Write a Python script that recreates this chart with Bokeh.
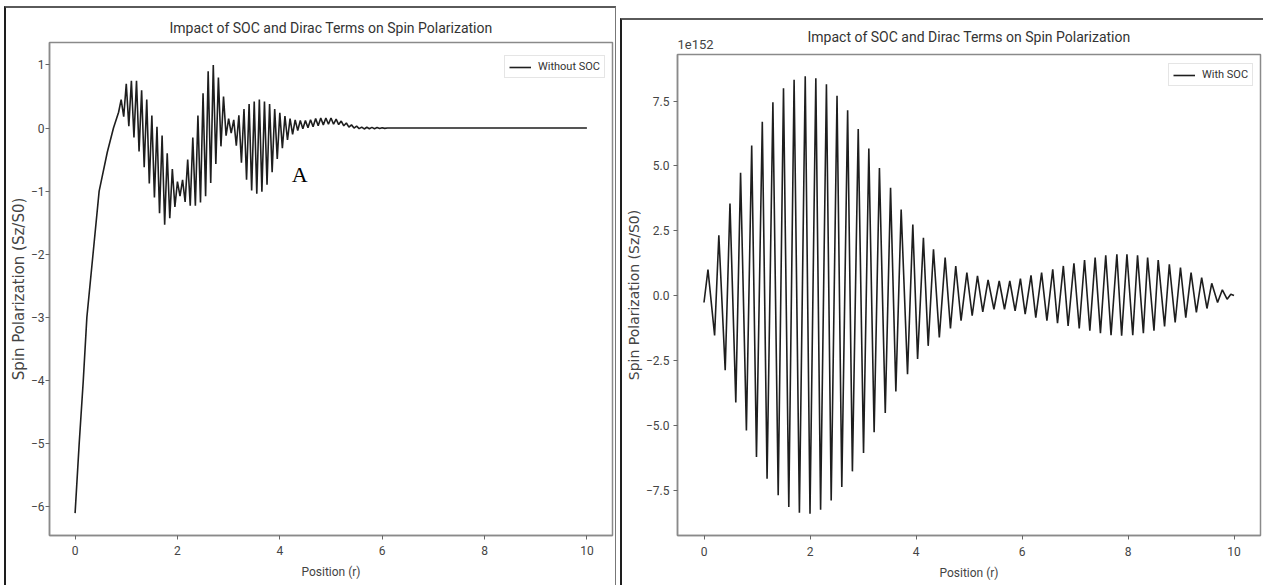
from bokeh.plotting import figure
from bokeh.layouts import row
from bokeh.models import Range1d, FixedTicker, Label, Title
from bokeh.embed import file_html
from bokeh.resources import INLINE

# ---------------- data ----------------
TITLE = "Impact of SOC and Dirac Terms on Spin Polarization"
X_LABEL = "Position (r)"
Y_LABEL = "Spin Polarization (Sz/S0)"
LEFT_LEGEND = "Without SOC"
RIGHT_LEGEND = "With SOC"
RIGHT_OFFSET_TEXT = "1e152"   # right panel values are in units of 1e152
ANNOTATION_TEXT = "A"

# left panel: spin polarization without SOC (turning points of the curve)
left_x = [0.0, 0.08, 0.16, 0.23, 0.35, 0.47, 0.63, 0.75, 0.85,
          0.90, 0.95, 1.00, 1.05, 1.10, 1.15, 1.20, 1.25, 1.30, 1.35,
          1.40, 1.45, 1.50, 1.55, 1.60, 1.65, 1.70, 1.75, 1.80, 1.85,
          1.90, 1.95, 2.00, 2.05, 2.10, 2.15, 2.20, 2.25, 2.30, 2.35,
          2.40, 2.45, 2.50, 2.55, 2.60, 2.65, 2.70, 2.75, 2.80, 2.85,
          2.90, 2.95, 3.00, 3.05, 3.10, 3.15, 3.20, 3.25, 3.30, 3.35,
          3.40, 3.45, 3.50, 3.55, 3.60, 3.65, 3.70, 3.75, 3.80, 3.85,
          3.90, 3.95, 4.00, 4.05, 4.10, 4.15, 4.20, 4.25, 4.30, 4.35,
          4.40, 4.45, 4.50, 4.55, 4.60, 4.65, 4.70, 4.75, 4.80, 4.85,
          4.90, 4.95, 5.00, 5.05, 5.10, 5.15, 5.20, 5.25, 5.30, 5.35,
          5.40, 5.45, 5.50, 5.55, 5.60, 5.65, 5.70, 5.75, 5.80, 5.85,
          5.90, 5.95, 6.00, 6.05, 6.10, 10.0]
left_y = [-6.1, -5.0, -4.0, -3.0, -2.0, -1.0, -0.38, 0.0, 0.25,
          0.45, 0.18, 0.70, 0.03, 0.75, -0.15, 0.75, -0.37, 0.60, -0.62,
          0.45, -0.88, 0.20, -1.10, 0.02, -1.35, -0.12, -1.53, -0.40, -1.43,
          -0.65, -1.25, -0.85, -1.08, -0.82, -1.17, -0.50, -1.23, -0.15, -1.23,
          0.20, -1.18, 0.55, -1.08, 0.90, -0.87, 1.00, -0.57, 0.80, -0.29,
          0.50, -0.12, 0.15, -0.08, 0.13, -0.28, 0.20, -0.55, 0.30, -0.82,
          0.38, -0.99, 0.42, -1.04, 0.45, -1.01, 0.42, -0.90, 0.38, -0.70,
          0.30, -0.49, 0.24, -0.32, 0.19, -0.19, 0.15, -0.10, 0.13, -0.04,
          0.12, -0.01, 0.12, 0.005, 0.13, 0.02, 0.15, 0.035, 0.16, 0.05,
          0.16, 0.06, 0.16, 0.06, 0.14, 0.055, 0.11, 0.035, 0.08, 0.015,
          0.05, 0.0, 0.03, -0.01, 0.015, -0.015, 0.012, -0.012, 0.01, -0.01,
          0.008, -0.008, 0.005, -0.005, 0.0, 0.0]

# right panel: spin polarization with SOC, in units of 1e152 (turning points)
right_x = [0.0, 0.075, 0.2, 0.28, 0.4, 0.49, 0.6, 0.69, 0.8, 0.9,
           0.99, 1.1, 1.19, 1.3, 1.4, 1.5, 1.6, 1.7, 1.8, 1.91,
           2.0, 2.11, 2.2, 2.31, 2.4, 2.51, 2.6, 2.71, 2.8, 2.91,
           3.01, 3.11, 3.21, 3.31, 3.42, 3.52, 3.62, 3.72, 3.84, 3.94,
           4.03, 4.14, 4.23, 4.33, 4.44, 4.55, 4.65, 4.75, 4.85, 4.96,
           5.06, 5.16, 5.26, 5.36, 5.47, 5.57, 5.67, 5.77, 5.87, 5.97,
           6.06, 6.17, 6.26, 6.37, 6.47, 6.58, 6.67, 6.78, 6.87, 6.98,
           7.08, 7.18, 7.28, 7.38, 7.48, 7.58, 7.68, 7.79, 7.88, 7.98,
           8.09, 8.18, 8.29, 8.37, 8.49, 8.57, 8.69, 8.78, 8.89, 8.99,
           9.09, 9.19, 9.29, 9.39, 9.49, 9.58, 9.69, 9.78, 9.87, 9.94, 10.0]
right_y = [-0.27, 1.0, -1.54, 2.32, -2.88, 3.55, -4.12, 4.73, -5.20, 5.78,
           -6.23, 6.70, -7.06, 7.45, -7.70, 7.99, -8.15, 8.32, -8.38, 8.45,
           -8.41, 8.38, -8.26, 8.15, -7.90, 7.70, -7.38, 7.14, -6.78, 6.42,
           -6.07, 5.67, -5.27, 4.92, -4.53, 4.15, -3.70, 3.32, -3.03, 2.74,
           -2.45, 2.23, -1.94, 1.78, -1.62, 1.46, -1.27, 1.14, -0.97, 0.88,
           -0.78, 0.76, -0.63, 0.60, -0.53, 0.56, -0.53, 0.56, -0.59, 0.65,
           -0.72, 0.78, -0.85, 0.88, -0.97, 1.01, -1.07, 1.14, -1.17, 1.24,
           -1.27, 1.37, -1.36, 1.46, -1.45, 1.55, -1.53, 1.59, -1.55, 1.59,
           -1.53, 1.55, -1.45, 1.46, -1.36, 1.37, -1.19, 1.20, -1.04, 1.08,
           -0.85, 0.88, -0.65, 0.69, -0.50, 0.47, -0.27, 0.22, -0.14, 0.05, 0.0]

x_ticks = [0, 2, 4, 6, 8, 10]
x_tick_labels = ["0", "2", "4", "6", "8", "10"]
left_y_ticks = [-6, -5, -4, -3, -2, -1, 0, 1]
left_y_tick_labels = ["\u22126", "\u22125", "\u22124", "\u22123", "\u22122", "\u22121", "0", "1"]
right_y_ticks = [-7.5, -5.0, -2.5, 0.0, 2.5, 5.0, 7.5]
right_y_tick_labels = ["\u22127.5", "\u22125.0", "\u22122.5", "0.0", "2.5", "5.0", "7.5"]

annotation_pos = (4.39, -0.73)   # where the letter "A" sits (left panel data coords)

FONT = "Roboto"
WIDE = "DejaVu Sans"


def padded(vals, frac=0.05):
    lo, hi = min(vals), max(vals)
    pad = (hi - lo) * frac
    return Range1d(lo - pad, hi + pad)


def make_panel(xs, ys, legend_label, yticks, ylabels, width, height,
               borders, ylab_size, legend_pos, styles, margin,
               ylab_standoff, ytick_standoff, xtick_standoff,
               offset_text=None, title_standoff=10, offset_standoff=4):
    p = figure(width=width, height=height, output_backend="svg",
               toolbar_location=None, title=None,
               x_range=padded(xs), y_range=padded(ys),
               min_border_left=borders[0], min_border_right=borders[1],
               min_border_top=borders[2], min_border_bottom=borders[3],
               styles=styles, margin=margin)
    p.grid.visible = False
    p.background_fill_color = "white"
    p.border_fill_color = "white"
    p.outline_line_color = "#8a8a8a"
    p.outline_line_width = 1.5

    if offset_text is not None:
        p.add_layout(Title(text=offset_text, align="left", text_font=FONT,
                           text_font_size="13px", text_font_style="normal",
                           text_color="#444444", standoff=offset_standoff), "above")
    p.add_layout(Title(text=TITLE, align="center", text_font=FONT,
                       text_font_size="14px", text_font_style="normal",
                       text_color="#333333", standoff=title_standoff), "above")

    for ax in (p.xaxis[0], p.yaxis[0]):
        ax.axis_line_color = "#8a8a8a"
        ax.axis_line_width = 1.5
        ax.major_tick_line_color = "#666666"
        ax.major_tick_out = 4
        ax.major_tick_in = 0
        ax.minor_tick_line_color = None
        ax.major_label_text_font = FONT
        ax.major_label_text_font_size = "12px"
        ax.major_label_text_color = "#444444"
        ax.axis_label_text_font_style = "normal"
        ax.axis_label_text_color = "#444444"

    p.xaxis.ticker = FixedTicker(ticks=x_ticks)
    p.xaxis.major_label_overrides = dict(zip(x_ticks, x_tick_labels))
    p.xaxis.axis_label = X_LABEL
    p.xaxis.axis_label_text_font = FONT
    p.xaxis.axis_label_text_font_size = "12px"
    p.xaxis.major_label_standoff = xtick_standoff
    p.xaxis.axis_label_standoff = 7

    p.yaxis.ticker = FixedTicker(ticks=yticks)
    p.yaxis.major_label_overrides = dict(zip(yticks, ylabels))
    p.yaxis.axis_label = Y_LABEL
    p.yaxis.axis_label_text_font = WIDE
    p.yaxis.axis_label_text_font_size = ylab_size
    p.yaxis.major_label_standoff = ytick_standoff
    p.yaxis.axis_label_standoff = ylab_standoff

    p.line(xs, ys, line_color="#1e1e1e", line_width=1.6, legend_label=legend_label)

    lg = p.legend[0]
    lg.location = legend_pos
    lg.label_text_font = FONT
    lg.label_text_font_size = "11px"
    lg.label_text_color = "#333333"
    lg.border_line_color = "#cccccc"
    lg.border_line_width = 1
    lg.background_fill_alpha = 1.0
    lg.padding = 4
    lg.spacing = 0
    lg.margin = 0
    lg.glyph_width = 22
    lg.glyph_height = 10
    lg.label_height = 10
    lg.label_standoff = 7
    return p


p1 = make_panel(left_x, left_y, LEFT_LEGEND, left_y_ticks, left_y_tick_labels,
                width=609, height=577, borders=(43, 6, 34, 52), ylab_size="15px",
                legend_pos=(455, 457),
                styles={"box-sizing": "content-box",
                        "border-left": "2px solid #1e1e1e", "border-top": "2px solid #5a5a5a",
                        "border-right": "1px solid #777777"},
                margin=(6, 0, 0, 4), ylab_standoff=0, ytick_standoff=1, xtick_standoff=6,
                title_standoff=14)

p1.add_layout(Label(x=annotation_pos[0], y=annotation_pos[1], text=ANNOTATION_TEXT,
                    text_font="Liberation Serif", text_font_size="22px",
                    text_color="black", text_align="center", text_baseline="alphabetic"))

p2 = make_panel(right_x, right_y, RIGHT_LEGEND, right_y_ticks, right_y_tick_labels,
                width=641, height=565, borders=(54, 5, 32, 51), ylab_size="14px",
                legend_pos=(491, 449),
                styles={"box-sizing": "content-box",
                        "border-left": "2px solid #1e1e1e", "border-top": "2px solid #5a5a5a"},
                margin=(18, 0, 0, 4), ylab_standoff=1, ytick_standoff=4, xtick_standoff=7,
                offset_text=RIGHT_OFFSET_TEXT, title_standoff=-24, offset_standoff=11)

layout = row(p1, p2, spacing=0, margin=0)

open("out.html", "w").write(file_html(layout, INLINE))
